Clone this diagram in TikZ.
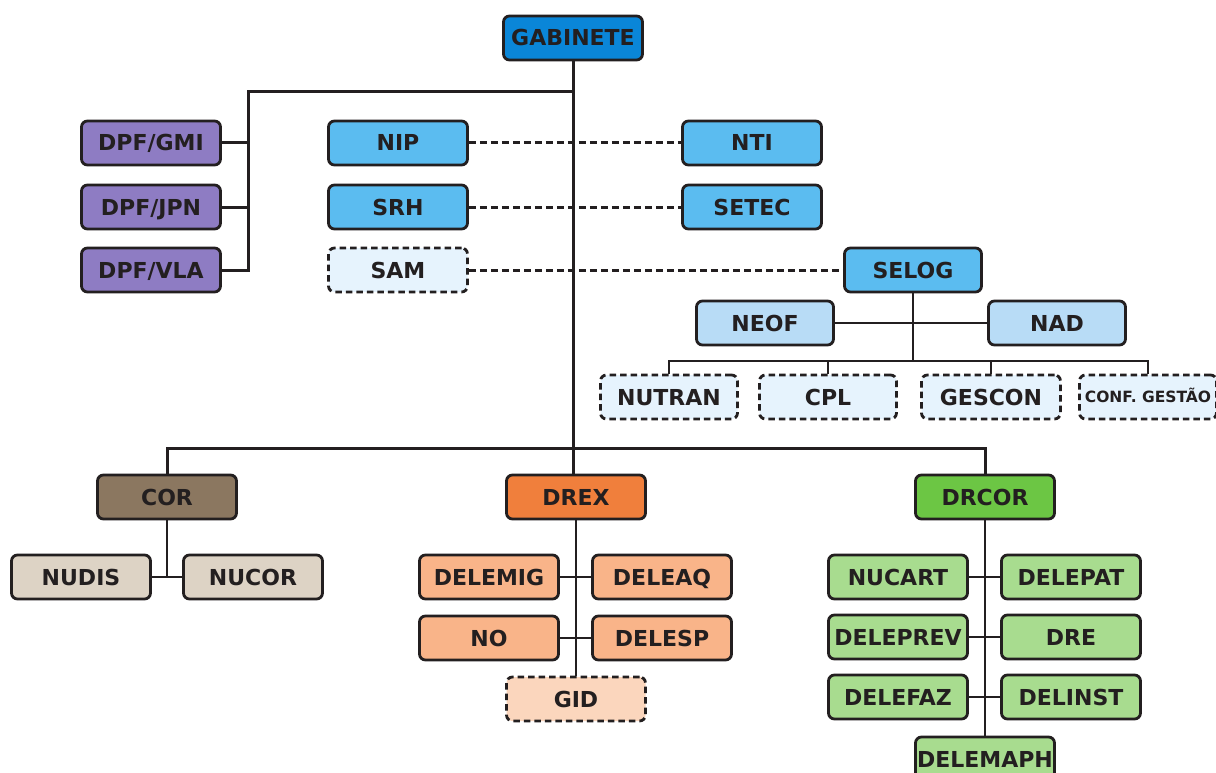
\documentclass[tikz,border=0pt]{standalone}
\usepackage{fontspec}
\setmainfont{DejaVu Sans}
\usepackage{xcolor}

\definecolor{ink}{HTML}{231F20}
\definecolor{gabblue}{HTML}{0A86D8}
\definecolor{dpfpurple}{HTML}{8E7CC3}
\definecolor{secblue}{HTML}{5BBCF0}
\definecolor{subblue}{HTML}{B8DCF6}
\definecolor{paleblue}{HTML}{E6F3FD}
\definecolor{corbrown}{HTML}{8B7760}
\definecolor{corpale}{HTML}{DDD3C5}
\definecolor{drexorange}{HTML}{F07F3C}
\definecolor{deleorange}{HTML}{F9B489}
\definecolor{gidpale}{HTML}{FBD6BD}
\definecolor{drcorgreen}{HTML}{6CC644}
\definecolor{delegreen}{HTML}{A8DC8F}

\tikzset{
  box/.style={draw=ink, line width=2.8pt, rounded corners=6pt, minimum width=139pt,
    minimum height=44pt, inner sep=0pt, text=ink, text height=16pt, text depth=0pt,
    font=\fontsize{22}{26}\selectfont\bfseries},
  dashbox/.style={box, dash pattern=on 6.5pt off 4pt},
  trunk/.style={draw=ink, line width=3pt},
  twig/.style={draw=ink, line width=2pt},
  link/.style={draw=ink, line width=3pt, dash pattern=on 7pt off 4pt}
}

\begin{document}
\begin{tikzpicture}[x=1pt, y=-1pt]
\fill[white] (0,0) rectangle (1216,773);
\useasboundingbox (0,0) rectangle (1216,773);

% Top
\node[box, fill=gabblue] (gab) at (573,38) {GABINETE};

% DPF units
\node[box, fill=dpfpurple] (gmi) at (151,143) {DPF/GMI};
\node[box, fill=dpfpurple] (jpn) at (151,207) {DPF/JPN};
\node[box, fill=dpfpurple] (vla) at (151,270) {DPF/VLA};

% Sections
\node[box, fill=secblue] (nip) at (398,143) {NIP};
\node[box, fill=secblue] (srh) at (398,207) {SRH};
\node[dashbox, fill=paleblue] (sam) at (398,270) {SAM};
\node[box, fill=secblue] (nti) at (752,143) {NTI};
\node[box, fill=secblue] (setec) at (752,207) {SETEC};
\node[box, fill=secblue, minimum width=137pt] (selog) at (913,270) {SELOG};

% SELOG group
\node[box, fill=subblue, minimum width=137pt] (neof) at (765,323) {NEOF};
\node[box, fill=subblue, minimum width=137pt] (nad) at (1057,323) {NAD};
\node[dashbox, fill=paleblue, minimum width=137pt] (nutran) at (669,397) {NUTRAN};
\node[dashbox, fill=paleblue, minimum width=137pt] (cpl) at (828,397) {CPL};
\node[dashbox, fill=paleblue] (gescon) at (991,397) {GESCON};
\node[dashbox, fill=paleblue, minimum width=137pt, text height=11pt,
  font=\fontsize{15.5}{18}\selectfont\bfseries] (conf) at (1148,397) {CONF. GESTÃO};

% COR
\node[box, fill=corbrown] (cor) at (167,497) {COR};
\node[box, fill=corpale] (nudis) at (81,577) {NUDIS};
\node[box, fill=corpale] (nucor) at (253,577) {NUCOR};

% DREX
\node[box, fill=drexorange] (drex) at (576,497) {DREX};
\node[box, fill=deleorange] (delemig) at (489,577) {DELEMIG};
\node[box, fill=deleorange] (deleaq) at (662,577) {DELEAQ};
\node[box, fill=deleorange] (no) at (489,638) {NO};
\node[box, fill=deleorange] (delesp) at (662,638) {DELESP};
\node[dashbox, fill=gidpale] (gid) at (576,699) {GID};

% DRCOR
\node[box, fill=drcorgreen] (drcor) at (985,497) {DRCOR};
\node[box, fill=delegreen] (nucart) at (898,577) {NUCART};
\node[box, fill=delegreen] (delepat) at (1071,577) {DELEPAT};
\node[box, fill=delegreen] (deleprev) at (898,637) {DELEPREV};
\node[box, fill=delegreen] (dre) at (1071,637) {DRE};
\node[box, fill=delegreen] (delefaz) at (898,697) {DELEFAZ};
\node[box, fill=delegreen] (delinst) at (1071,697) {DELINST};
\node[box, fill=delegreen] (delemaph) at (985,759) {DELEMAPH};

% Bus points
\coordinate (topbus) at (573,92);
\coordinate (dpfjoin) at (248,92);
\coordinate (lowbus) at (573,448);
\coordinate (logbus) at (913,361);

% Main lines
\draw[trunk] (gab.south) -- (lowbus) -- (drex.north -| lowbus);
\draw[trunk] (topbus) -- (dpfjoin) -- (dpfjoin |- vla.east) -- (vla.east);
\draw[trunk] (gmi.east) -- (gmi.east -| dpfjoin);
\draw[trunk] (jpn.east) -- (jpn.east -| dpfjoin);
\draw[trunk] (cor.north) |- (lowbus) -| (drcor.north);

% Dashed links
\draw[link] (nip.east) -- (nti.west);
\draw[link] (srh.east) -- (setec.west);
\draw[link] (sam.east) -- (selog.west);

% SELOG branches
\draw[twig] (selog.south) -- (logbus);
\draw[twig] (neof.east) -- (nad.west);
\draw[twig] (nutran.north) |- (logbus) -| (conf.north);
\draw[twig] (cpl.north) -- (cpl.north |- logbus);
\draw[twig] (gescon.north) -- (gescon.north |- logbus);

% COR branches
\draw[twig] (cor.south) -- (cor.south |- nudis.east);
\draw[twig] (nudis.east) -- (nucor.west);

% DREX branches
\draw[twig] (drex.south) -- (gid.north);
\draw[twig] (delemig.east) -- (deleaq.west);
\draw[twig] (no.east) -- (delesp.west);

% DRCOR branches
\draw[twig] (drcor.south) -- (delemaph.north);
\draw[twig] (nucart.east) -- (delepat.west);
\draw[twig] (deleprev.east) -- (dre.west);
\draw[twig] (delefaz.east) -- (delinst.west);
\end{tikzpicture}
\end{document}
